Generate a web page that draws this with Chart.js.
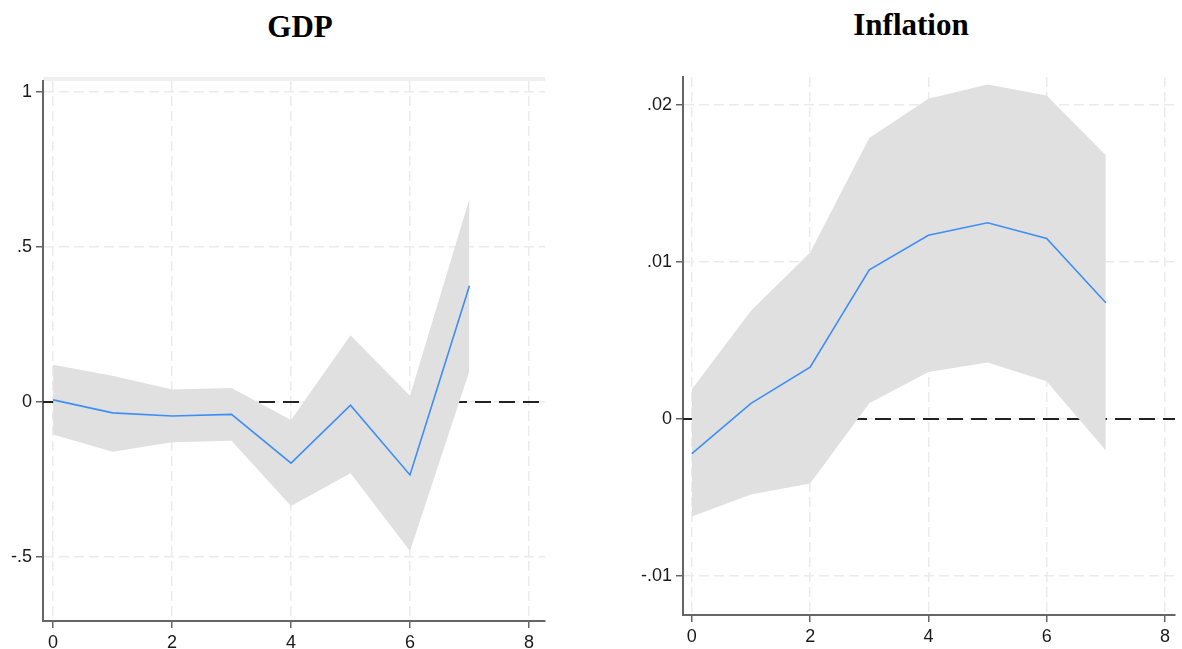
<!DOCTYPE html>
<html>
<head>
<meta charset="utf-8">
<script src="https://cdn.jsdelivr.net/npm/chart.js@4"></script>
<style>
  body { margin: 0; background: #fff; width: 1182px; height: 649px; position: relative; overflow: hidden; }
  .title { position: absolute; font: bold 31px/31px "Liberation Serif", serif; color: #000; transform: translateX(-50%); white-space: nowrap; }
  .panel { position: absolute; top: 0; height: 649px; }
</style>
</head>
<body>
<div class="title" style="left:300px;top:11px">GDP</div>
<div class="title" style="left:911px;top:9px">Inflation</div>
<div class="panel" style="left:0;width:590px"><canvas id="gdpChart"></canvas></div>
<div class="panel" style="left:600px;width:582px"><canvas id="inflChart"></canvas></div>

<script>
// impulse response horizons
const steps = [0, 1, 2, 3, 4, 5, 6, 7];
const xTicks = [0, 2, 4, 6, 8];

// GDP panel
const gdpIrf   = [0.007, -0.035, -0.045, -0.04, -0.197, -0.01, -0.235, 0.375];
const gdpUpper = [0.12, 0.085, 0.04, 0.045, -0.058, 0.215, 0.02, 0.655];
const gdpLower = [-0.105, -0.16, -0.13, -0.125, -0.335, -0.23, -0.48, 0.1];
const gdpTicks = [-0.5, 0, 0.5, 1];

// Inflation panel
const inflIrf   = [-0.0022, 0.001, 0.0033, 0.0095, 0.0117, 0.0125, 0.0115, 0.0074];
const inflUpper = [0.0019, 0.0069, 0.0106, 0.0179, 0.0204, 0.0213, 0.0206, 0.0168];
const inflLower = [-0.0062, -0.0048, -0.0041, 0.001, 0.003, 0.0036, 0.0024, -0.002];
const inflTicks = [-0.01, 0, 0.01, 0.02];

function fmt(v) {
  // stata style: drop the leading zero
  return String(v).replace(/^(-?)0\./, '$1.');
}

function pts(ys) {
  return ys.map((y, i) => ({ x: steps[i], y: y }));
}

// light grey strip above the GDP plot (cut off subtitle box)
const topStrip = {
  id: 'topStrip',
  beforeDraw(chart) {
    const a = chart.chartArea;
    const ctx = chart.ctx;
    ctx.save();
    ctx.fillStyle = '#f0f0f0';
    ctx.fillRect(a.left, a.top - 4, a.right - a.left, 4);
    ctx.restore();
  }
};

function makeChart(id, cfg) {
  const ctx = document.getElementById(id).getContext('2d');
  return new Chart(ctx, {
    type: 'line',
    data: {
      datasets: [
        {
          data: [{ x: cfg.xMin, y: 0 }, { x: cfg.xMax, y: 0 }],
          borderColor: '#222', borderWidth: 2, borderDash: [16, 8],
          pointRadius: 0, fill: false, order: 3
        },
        {
          data: pts(cfg.upper), borderWidth: 0, pointRadius: 0,
          backgroundColor: '#e0e0e0', fill: '+1', order: 2
        },
        {
          data: pts(cfg.lower), borderWidth: 0, pointRadius: 0,
          backgroundColor: '#e0e0e0', fill: false, order: 2
        },
        {
          data: pts(cfg.irf), borderColor: '#3d8ef7', borderWidth: 1.6,
          pointRadius: 0, fill: false, tension: 0, order: 1
        }
      ]
    },
    options: {
      responsive: true,
      maintainAspectRatio: false,
      animation: false,
      layout: { padding: { top: cfg.padTop, right: cfg.padRight, left: 0, bottom: 0 } },
      plugins: { legend: { display: false }, tooltip: { enabled: false } },
      scales: {
        x: {
          type: 'linear', min: cfg.xMin, max: cfg.xMax,
          afterBuildTicks: s => { s.ticks = xTicks.map(v => ({ value: v })); },
          afterFit: s => { s.height = cfg.xH; },
          ticks: { color: '#1a1a1a', padding: 4, font: { family: 'Liberation Sans', size: 18 }, callback: fmt },
          grid: { color: '#ebebeb', lineWidth: 1.5, tickColor: '#666', tickLength: 7, tickWidth: 1.5 },
          border: { color: '#666', width: 2, dash: [10, 5] }
        },
        y: {
          min: cfg.yMin, max: cfg.yMax,
          afterBuildTicks: s => { s.ticks = cfg.yTicks.map(v => ({ value: v })); },
          afterFit: s => { s.width = cfg.yW; },
          ticks: { color: '#1a1a1a', padding: 4, font: { family: 'Liberation Sans', size: 18 }, callback: fmt },
          grid: { color: '#ebebeb', lineWidth: 1.5, tickColor: '#666', tickLength: 7, tickWidth: 1.5 },
          border: { color: '#666', width: 2, dash: [10, 5] }
        }
      }
    },
    plugins: cfg.plugins || []
  });
}

makeChart('gdpChart', {
  irf: gdpIrf, upper: gdpUpper, lower: gdpLower, yTicks: gdpTicks,
  xMin: -0.17, xMax: 8.27, yMin: -0.706, yMax: 1.035,
  yW: 43, xH: 28, padTop: 81, padRight: 45, plugins: [topStrip]
});

makeChart('inflChart', {
  irf: inflIrf, upper: inflUpper, lower: inflLower, yTicks: inflTicks,
  xMin: -0.15, xMax: 8.17, yMin: -0.01248, yMax: 0.02178,
  yW: 83, xH: 34, padTop: 77, padRight: 7
});
</script>
</body>
</html>
